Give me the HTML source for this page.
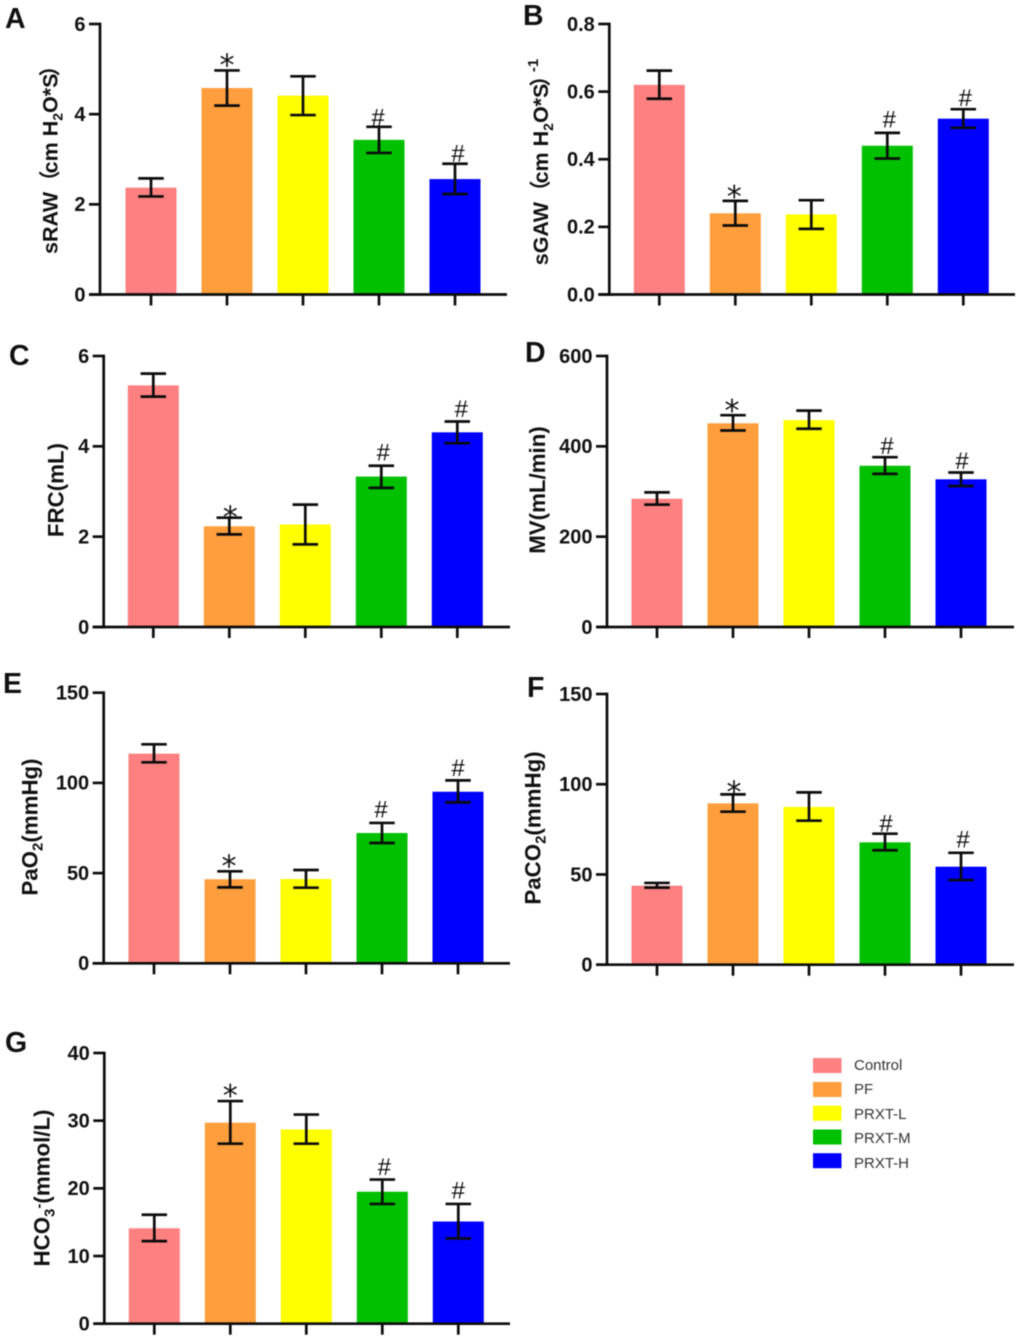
<!DOCTYPE html>
<html lang="en">
<head>
<meta charset="utf-8">
<title>Lung function and blood gas bar charts</title>
<style>
html,body{margin:0;padding:0;background:#fff;width:1020px;height:1340px;overflow:hidden}
svg{display:block;filter:blur(0.45px)}
text{font-family:"Liberation Sans","Noto Sans CJK SC",sans-serif;fill:#111}
.letter{font-size:28.5px;font-weight:700}
.axt{font-size:22.3px;font-weight:700;text-anchor:middle}
.axw{font-size:21.5px}
.tick{font-size:20px;font-weight:700;text-anchor:end}
.leg{font-size:15px;fill:#333}
.star{font-size:30px;text-anchor:middle;font-family:"DejaVu Sans",sans-serif}
.hash{font-size:24px;text-anchor:middle}
</style>
</head>
<body>
<svg id="figure" xmlns="http://www.w3.org/2000/svg" width="1020" height="1340" viewBox="0 0 1020 1340">
  <g id="plots"></g>

  <g>
    <text class="letter" x="5" y="28">A</text>
    <text class="letter" x="523" y="25">B</text>
    <text class="letter" x="9" y="365">C</text>
    <text class="letter" x="525" y="362">D</text>
    <text class="letter" x="3" y="693">E</text>
    <text class="letter" x="527" y="697">F</text>
    <text class="letter" x="5" y="1052">G</text>
  </g>

  <g>
    <text class="axt axw" transform="translate(57.5,154.5) rotate(-90)">sRAW（<tspan dx="-3">cm H</tspan><tspan dy="5" font-size="14">2</tspan><tspan dy="-5">O*S</tspan><tspan dx="-3">）</tspan></text>
    <text class="axt axw" transform="translate(548,162) rotate(-90)">sGAW（<tspan dx="-3">cm H</tspan><tspan dy="5" font-size="14">2</tspan><tspan dy="-5">O*S</tspan><tspan dx="-3">）</tspan><tspan dx="-7" dy="-10" font-size="15">-1</tspan></text>
    <text class="axt" transform="translate(63.3,490) rotate(-90)">FRC(mL)</text>
    <text class="axt" transform="translate(545,490) rotate(-90)">MV(mL/min)</text>
    <text class="axt" transform="translate(37.7,827) rotate(-90)">PaO<tspan dy="5" font-size="15">2</tspan><tspan dy="-5">(mmHg)</tspan></text>
    <text class="axt" transform="translate(540.7,828) rotate(-90)">PaCO<tspan dy="5" font-size="15">2</tspan><tspan dy="-5">(mmHg)</tspan></text>
    <text class="axt" transform="translate(49.3,1188) rotate(-90)">HCO<tspan dy="5" font-size="15">3</tspan><tspan dy="-11" font-size="15">-</tspan><tspan dy="6">(mmol/L)</tspan></text>
  </g>

  <g>
    <g>
      <rect x="813" y="1058" width="28.5" height="15" fill="#ff8080"/>
      <text class="leg" x="854" y="1070">Control</text>
    </g>
    <g>
      <rect x="813" y="1082" width="28.5" height="15" fill="#ff9e3d"/>
      <text class="leg" x="854" y="1094">PF</text>
    </g>
    <g>
      <rect x="813" y="1105.7" width="28.5" height="15" fill="#ffff00"/>
      <text class="leg" x="854" y="1119">PRXT-L</text>
    </g>
    <g>
      <rect x="813" y="1129.5" width="28.5" height="15" fill="#00c000"/>
      <text class="leg" x="854" y="1143">PRXT-M</text>
    </g>
    <g>
      <rect x="813" y="1153.2" width="28.5" height="15" fill="#0000ff"/>
      <text class="leg" x="854" y="1168">PRXT-H</text>
    </g>
  </g>
</svg>

<script>
// ---- Data ----
const categories = ['Control', 'PF', 'PRXT-L', 'PRXT-M', 'PRXT-H'];

const sawMeans = [2.37, 4.58, 4.41, 3.43, 2.56];
const sawUpper = [2.575, 4.97, 4.84, 3.72, 2.90];
const sawLower = [2.175, 4.19, 3.98, 3.14, 2.23];
const sawTicks = [0, 2, 4, 6];
const sawTickLabels = ['0', '2', '4', '6'];
const sawNotes = ['', '*', '', '#', '#'];

const sgawMeans = [0.62, 0.24, 0.237, 0.44, 0.52];
const sgawUpper = [0.662, 0.277, 0.279, 0.478, 0.548];
const sgawLower = [0.579, 0.204, 0.194, 0.402, 0.493];
const sgawTicks = [0, 0.2, 0.4, 0.6, 0.8];
const sgawTickLabels = ['0.0', '0.2', '0.4', '0.6', '0.8'];
const sgawNotes = ['', '*', '', '#', '#'];

const frcMeans = [5.35, 2.23, 2.27, 3.33, 4.31];
const frcUpper = [5.61, 2.42, 2.71, 3.57, 4.55];
const frcLower = [5.10, 2.05, 1.83, 3.08, 4.07];
const frcTicks = [0, 2, 4, 6];
const frcTickLabels = ['0', '2', '4', '6'];
const frcNotes = ['', '*', '', '#', '#'];

const mvMeans = [284, 451, 458, 357, 327];
const mvUpper = [298, 469, 479, 376, 342];
const mvLower = [271, 435, 439, 339, 312];
const mvTicks = [0, 200, 400, 600];
const mvTickLabels = ['0', '200', '400', '600'];
const mvNotes = ['', '*', '', '#', '#'];

const pao2Means = [116.2, 46.6, 46.7, 72.2, 95.1];
const pao2Upper = [121.4, 51, 51.7, 77.8, 101.4];
const pao2Lower = [111.4, 42.1, 41.9, 66.7, 89.2];
const pao2Ticks = [0, 50, 100, 150];
const pao2TickLabels = ['0', '50', '100', '150'];
const pao2Notes = ['', '*', '', '#', '#'];

const paco2Means = [43.8, 89.4, 87.4, 67.8, 54.3];
const paco2Upper = [45.3, 94.4, 95.5, 72.6, 62];
const paco2Lower = [42.7, 84.8, 79.8, 63.4, 46.9];
const paco2Ticks = [0, 50, 100, 150];
const paco2TickLabels = ['0', '50', '100', '150'];
const paco2Notes = ['', '*', '', '#', '#'];

const hco3Means = [14.1, 29.7, 28.7, 19.5, 15.1];
const hco3Upper = [16.1, 32.9, 30.9, 21.3, 17.7];
const hco3Lower = [12.2, 26.6, 26.6, 17.7, 12.6];
const hco3Ticks = [0, 10, 20, 30, 40];
const hco3TickLabels = ['0', '10', '20', '30', '40'];
const hco3Notes = ['', '*', '', '#', '#'];

// ---- Styling and layout (not data) ----
const barColors = ['#ff8080', '#ff9e3d', '#ffff00', '#00c000', '#0000ff'];
const INK = '#0c0c0c';
const STROKE = 2.7;
const BAR_WIDTH = 51;
const CAP_WIDTH = 25.5;
const BAR_STEP = 76;
const TICK_LEN = 11;

const panels = [
  { id: 'sraw', means: sawMeans, upper: sawUpper, lower: sawLower, ticks: sawTicks, labels: sawTickLabels, notes: sawNotes,
    axisX: 100, top: 24, base: 294.5, right: 507, first: 151, nudge: { 1: [0, -11], 3: [-1, -10], 4: [3, -11] } },
  { id: 'sgaw', means: sgawMeans, upper: sgawUpper, lower: sgawLower, ticks: sgawTicks, labels: sgawTickLabels, notes: sgawNotes,
    axisX: 609.3, top: 24, base: 294.5, right: 1015, first: 659.3, nudge: { 1: [-1, -10], 3: [2, -14], 4: [2, -12] } },
  { id: 'frc', means: frcMeans, upper: frcUpper, lower: frcLower, ticks: frcTicks, labels: frcTickLabels, notes: frcNotes,
    axisX: 103.7, top: 356, base: 627, right: 510, first: 153.3, nudge: { 1: [1, -6], 3: [2, -14], 4: [4, -13] } },
  { id: 'mv', means: mvMeans, upper: mvUpper, lower: mvLower, ticks: mvTicks, labels: mvTickLabels, notes: mvNotes,
    axisX: 607, top: 356, base: 627, right: 1014, first: 657, nudge: { 1: [-1, -10], 3: [2, -12], 4: [1, -12] } },
  { id: 'pao2', means: pao2Means, upper: pao2Upper, lower: pao2Lower, ticks: pao2Ticks, labels: pao2TickLabels, notes: pao2Notes,
    axisX: 103.7, top: 692.7, base: 963.3, right: 510, first: 154, nudge: { 1: [-1, -11], 3: [-1, -14], 4: [0, -13] } },
  { id: 'paco2', means: paco2Means, upper: paco2Upper, lower: paco2Lower, ticks: paco2Ticks, labels: paco2TickLabels, notes: paco2Notes,
    axisX: 607, top: 694, base: 964.7, right: 1014, first: 657, nudge: { 1: [1, -8], 3: [1, -11], 4: [2, -14] } },
  { id: 'hco3', means: hco3Means, upper: hco3Upper, lower: hco3Lower, ticks: hco3Ticks, labels: hco3TickLabels, notes: hco3Notes,
    axisX: 104.3, top: 1053, base: 1323.7, right: 510, first: 154.3, nudge: { 1: [0, -11], 3: [2, -13], 4: [0, -14] } }
];

const SVG_NS = 'http://www.w3.org/2000/svg';

function make(tag, parent, attrs) {
  const el = document.createElementNS(SVG_NS, tag);
  for (const k in attrs) el.setAttribute(k, attrs[k]);
  parent.appendChild(el);
  return el;
}

function slug(s) {
  return s.toLowerCase().replace(/[^a-z0-9]+/g, '-');
}

function drawPanel(p) {
  const root = document.getElementById('plots');
  const maxTick = Math.max.apply(null, p.ticks);
  const yScale = function (v) { return p.base - (v / maxTick) * (p.base - p.top); };
  const xScale = function (i) { return p.first + i * BAR_STEP; };

  const group = make('g', root, {});
  
  

  categories.forEach(function (cat, i) {
    const cx = xScale(i);
    const key = slug(cat);

    const bar = make('rect', group, {
      x: cx - BAR_WIDTH / 2, y: yScale(p.means[i]), width: BAR_WIDTH,
      height: p.base - yScale(p.means[i]), fill: barColors[i]
    });
    
    

    const err = make('path', group, {
      d: 'M' + cx + ' ' + yScale(p.upper[i]) + 'V' + yScale(p.lower[i]) +
         'M' + (cx - CAP_WIDTH / 2) + ' ' + yScale(p.upper[i]) + 'H' + (cx + CAP_WIDTH / 2) +
         'M' + (cx - CAP_WIDTH / 2) + ' ' + yScale(p.lower[i]) + 'H' + (cx + CAP_WIDTH / 2),
      fill: 'none', stroke: INK, 'stroke-width': STROKE
    });
    
    

    const xTick = make('line', group, {
      x1: cx, x2: cx, y1: p.base, y2: p.base + TICK_LEN, stroke: INK, 'stroke-width': STROKE
    });
    
    

    const note = p.notes[i];
    if (note) {
      const off = p.nudge[i] || [0, -11];
      const isStar = note === '*';
      const centerY = yScale(p.upper[i]) + off[1];
      const label = make('text', group, {
        x: cx + off[0],
        y: centerY + (isStar ? 16 : 8.6),
        'class': isStar ? 'star' : 'hash'
      });
      label.textContent = note;
      
      
    }
  });

  const xAxis = make('line', group, {
    x1: p.axisX - TICK_LEN, x2: p.right, y1: p.base, y2: p.base, stroke: INK, 'stroke-width': STROKE
  });
  
  

  const yAxis = make('line', group, {
    x1: p.axisX, x2: p.axisX, y1: p.top - STROKE / 2, y2: p.base + STROKE / 2, stroke: INK, 'stroke-width': STROKE
  });
  
  

  p.ticks.forEach(function (t, i) {
    const y = yScale(t);
    const tick = make('line', group, {
      x1: p.axisX - TICK_LEN, x2: p.axisX, y1: y, y2: y, stroke: INK, 'stroke-width': STROKE
    });
    
    

    const label = make('text', group, {
      x: p.axisX - 14.5, y: y + 6.8, 'class': 'tick'
    });
    label.textContent = p.labels[i];
    
    
  });
}

panels.forEach(drawPanel);
</script>
</body>
</html>
